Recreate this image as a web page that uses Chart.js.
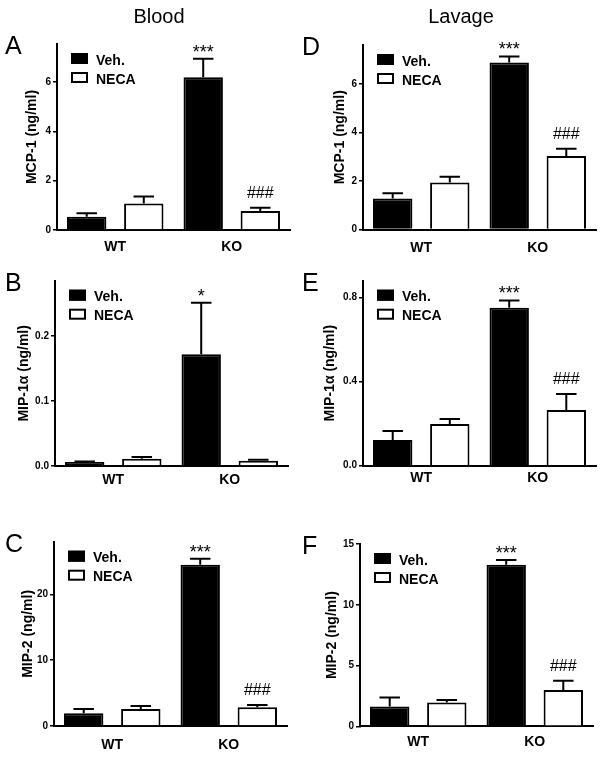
<!DOCTYPE html>
<html>
<head>
<meta charset="utf-8">
<script src="https://cdn.jsdelivr.net/npm/chart.js@4"></script>
<style>
  html, body { margin: 0; padding: 0; background: #fff; }
  #page { position: relative; width: 603px; height: 758px; overflow: hidden; background: #fff; }
  canvas { position: absolute; }
</style>
</head>
<body>
<div id="page">
  <canvas id="panelA"></canvas>
  <canvas id="panelB"></canvas>
  <canvas id="panelC"></canvas>
  <canvas id="panelD"></canvas>
  <canvas id="panelE"></canvas>
  <canvas id="panelF"></canvas>
</div>
<script>
const FONT = '"Liberation Sans", Arial, Helvetica, sans-serif';

// Data
const groups = ['WT', 'KO'];
const seriesNames = ['Veh.', 'NECA'];

// A - Blood, MCP-1
const bloodMcpVeh = [0.54, 6.2];
const bloodMcpVehErr = [0.14, 0.75];
const bloodMcpNeca = [1.08, 0.77];
const bloodMcpNecaErr = [0.28, 0.13];

// B - Blood, MIP-1a
const bloodMip1Veh = [0.006, 0.172];
const bloodMip1VehErr = [0.001, 0.079];
const bloodMip1Neca = [0.011, 0.008];
const bloodMip1NecaErr = [0.003, 0.0015];

// C - Blood, MIP-2
const bloodMip2Veh = [1.92, 24.5];
const bloodMip2VehErr = [0.66, 0.9];
const bloodMip2Neca = [2.58, 2.84];
const bloodMip2NecaErr = [0.46, 0.35];

// D - Lavage, MCP-1
const lavageMcpVeh = [1.28, 6.88];
const lavageMcpVehErr = [0.21, 0.25];
const lavageMcpNeca = [1.94, 3.03];
const lavageMcpNecaErr = [0.23, 0.3];

// E - Lavage, MIP-1a
const lavageMip1Veh = [0.122, 0.751];
const lavageMip1VehErr = [0.043, 0.035];
const lavageMip1Neca = [0.198, 0.265];
const lavageMip1NecaErr = [0.024, 0.076];

// F - Lavage, MIP-2
const lavageMip2Veh = [1.62, 13.3];
const lavageMip2VehErr = [0.74, 0.38];
const lavageMip2Neca = [1.95, 2.99];
const lavageMip2NecaErr = [0.22, 0.75];

// significance marks
const marksVeh = ['', '***'];
const marksNeca = ['', '###'];
const marksVehB = ['', '*'];
const marksNecaB = ['', ''];

// tick labels
const ticksMcp = [0, 2, 4, 6];
const ticksBloodMip1 = [0, 0.1, 0.2];
const ticksBloodMip2 = [0, 10, 20];
const ticksLavageMip1 = [0, 0.4, 0.8];
const ticksLavageMip2 = [0, 5, 10, 15];

// Panel layout (page pixels): canvas box, plot area, y title centre, gap to x labels
const panels = [
  { id: 'panelA', letter: 'A', header: 'Blood', headerX: 159, box: [0, 0, 300, 255], area: [57, 290, 44, 230],
    max: 7.55, ticks: ticksMcp, dec: 0, title: 'MCP-1 (ng/ml)', titleX: 32.5, gap: 12,
    veh: bloodMcpVeh, vehErr: bloodMcpVehErr, neca: bloodMcpNeca, necaErr: bloodMcpNecaErr, mv: marksVeh, mn: marksNeca },
  { id: 'panelB', letter: 'B', box: [0, 255, 300, 245], area: [55, 288, 280.7, 466],
    max: 0.285, ticks: ticksBloodMip1, dec: 1, title: 'MIP-1\u03b1 (ng/ml)', titleX: 24, gap: 9,
    veh: bloodMip1Veh, vehErr: bloodMip1VehErr, neca: bloodMip1Neca, necaErr: bloodMip1NecaErr, mv: marksVehB, mn: marksNecaB },
  { id: 'panelC', letter: 'C', box: [0, 500, 300, 258], area: [54, 287, 541.7, 726],
    max: 28, ticks: ticksBloodMip2, dec: 0, title: 'MIP-2 (ng/ml)', titleX: 28.3, gap: 14,
    veh: bloodMip2Veh, vehErr: bloodMip2VehErr, neca: bloodMip2Neca, necaErr: bloodMip2NecaErr, mv: marksVeh, mn: marksNeca },
  { id: 'panelD', letter: 'D', header: 'Lavage', headerX: 461, box: [300, 0, 303, 255], area: [363, 596, 45, 229.5],
    max: 7.6, ticks: ticksMcp, dec: 0, title: 'MCP-1 (ng/ml)', titleX: 339.7, gap: 13,
    veh: lavageMcpVeh, vehErr: lavageMcpVehErr, neca: lavageMcpNeca, necaErr: lavageMcpNecaErr, mv: marksVeh, mn: marksNeca },
  { id: 'panelE', letter: 'E', box: [300, 255, 303, 245], area: [363, 596, 280.7, 465.7],
    max: 0.88, ticks: ticksLavageMip1, dec: 1, title: 'MIP-1\u03b1 (ng/ml)', titleX: 330, gap: 7,
    veh: lavageMip1Veh, vehErr: lavageMip1VehErr, neca: lavageMip1Neca, necaErr: lavageMip1NecaErr, mv: marksVeh, mn: marksNeca },
  { id: 'panelF', letter: 'F', box: [300, 500, 303, 258], area: [360, 593, 544, 726.3],
    max: 15, ticks: ticksLavageMip2, dec: 0, title: 'MIP-2 (ng/ml)', titleX: 331.7, gap: 10.5,
    veh: lavageMip2Veh, vehErr: lavageMip2VehErr, neca: lavageMip2Neca, necaErr: lavageMip2NecaErr, mv: marksVeh, mn: marksNeca }
];

Chart.defaults.font.family = FONT;
Chart.defaults.color = '#000';

// error bars, significance marks, legend, panel letters
const decor = {
  id: 'decor',
  afterDatasetsDraw(chart) {
    const ctx = chart.ctx;
    const yScale = chart.scales.y;
    ctx.save();
    ctx.strokeStyle = '#000';
    ctx.fillStyle = '#000';
    ctx.lineWidth = 2;
    chart.data.datasets.forEach((ds, di) => {
      chart.getDatasetMeta(di).data.forEach((bar, i) => {
        const top = yScale.getPixelForValue(ds.data[i] + ds.errors[i]);
        const half = bar.width * 0.26;
        ctx.beginPath();
        ctx.moveTo(bar.x, bar.y);
        ctx.lineTo(bar.x, top);
        ctx.moveTo(bar.x - half, top);
        ctx.lineTo(bar.x + half, top);
        ctx.stroke();
        const mark = ds.marks[i];
        if (mark) {
          const hash = mark[0] === '#';
          ctx.font = (hash ? '16px ' : '18px ') + FONT;
          ctx.textAlign = 'center';
          ctx.textBaseline = 'alphabetic';
          ctx.fillText(mark, bar.x, top - (hash ? 10 : 1));
        }
      });
    });
    ctx.restore();
  },
  afterDraw(chart) {
    const ctx = chart.ctx;
    const a = chart.chartArea;
    const o = chart.options.plugins.decor;
    ctx.save();
    // legend inside the plot
    chart.data.datasets.forEach((ds, di) => {
      const yy = a.top + 9 + di * 19;
      ctx.fillStyle = ds.backgroundColor;
      ctx.fillRect(a.left + 14, yy, 17, 11);
      ctx.strokeStyle = '#000';
      ctx.lineWidth = 2;
      ctx.strokeRect(a.left + 15, yy + 1, 15, 9);
      ctx.fillStyle = '#000';
      ctx.font = 'bold 14px ' + FONT;
      ctx.textAlign = 'left';
      ctx.textBaseline = 'alphabetic';
      ctx.fillText(ds.label, a.left + 39, yy + 11.5);
    });
    // panel letter
    ctx.fillStyle = '#000';
    ctx.font = '25px ' + FONT;
    ctx.textAlign = 'left';
    ctx.fillText(o.letter, o.letterX, a.top + 10);
    // column header
    if (o.header) {
      ctx.font = '20px ' + FONT;
      ctx.textAlign = 'center';
      ctx.fillText(o.header, o.headerX, 22.7 - o.oy);
    }
    ctx.restore();
  }
};

panels.forEach(p => {
  const [cx, cy, cw, ch] = p.box;
  const [l, r, t, b] = p.area;
  const canvas = document.getElementById(p.id);
  canvas.width = cw;
  canvas.height = ch;
  canvas.style.left = cx + 'px';
  canvas.style.top = cy + 'px';

  const padLeft = p.titleX - cx - 8.4;
  const yWidth = l - cx - padLeft;
  const xHeight = cy + ch - b;

  new Chart(canvas.getContext('2d'), {
    type: 'bar',
    data: {
      labels: groups,
      datasets: [
        { label: seriesNames[0], data: p.veh, errors: p.vehErr, marks: p.mv,
          backgroundColor: '#000', borderColor: '#000', borderWidth: 2,
          categoryPercentage: 0.98, barPercentage: 0.69 },
        { label: seriesNames[1], data: p.neca, errors: p.necaErr, marks: p.mn,
          backgroundColor: '#fff', borderColor: '#000', borderWidth: 2,
          categoryPercentage: 0.98, barPercentage: 0.69 }
      ]
    },
    options: {
      responsive: false,
      animation: false,
      devicePixelRatio: 1,
      layout: { padding: { left: padLeft, right: cx + cw - r, top: t - cy, bottom: 0 } },
      plugins: {
        legend: { display: false },
        tooltip: { enabled: false },
        decor: { letter: p.letter, letterX: (cx === 0 ? 5 : 302) - cx, header: p.header,
                 headerX: (p.headerX || 0) - cx, oy: cy }
      },
      scales: {
        x: {
          grid: { display: false, drawTicks: false },
          border: { display: true, color: '#000', width: 2 },
          ticks: { color: '#000', font: { size: 14, weight: 'bold' }, padding: p.gap - 3, maxRotation: 0 },
          afterFit: s => { s.height = xHeight; }
        },
        y: {
          min: 0,
          max: p.max,
          grid: { display: true, drawOnChartArea: false, drawTicks: true, tickLength: 4, color: '#000', lineWidth: 1.5 },
          border: { display: true, color: '#000', width: 2 },
          ticks: {
            color: '#000', font: { size: 10, weight: 'bold' }, padding: 2,
            callback: v => Number(v).toFixed(p.dec)
          },
          afterBuildTicks: s => { s.ticks = p.ticks.map(v => ({ value: v })); },
          title: { display: true, text: p.title, color: '#000', font: { size: 14, weight: 'bold' }, padding: { top: 0, bottom: 0 } },
          afterFit: s => { s.width = yWidth; }
        }
      }
    },
    plugins: [decor]
  });
});
</script>
</body>
</html>
